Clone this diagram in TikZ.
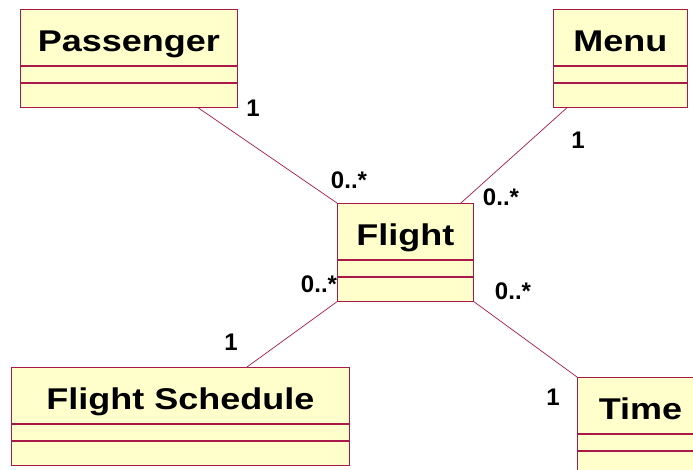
\documentclass[tikz,border=0pt]{standalone}
\usepackage{fontspec}
\setmainfont{Liberation Sans}
\newfontfamily\classfont[FakeStretch=1.2]{Liberation Sans}
\definecolor{classfill}{RGB}{255,255,204}
\definecolor{classline}{RGB}{168,24,72}

\begin{document}
\begin{tikzpicture}[x=1pt,y=-1pt,
    classbox/.style={draw=classline,fill=classfill,line width=0.9pt,anchor=north west,inner sep=0pt},
    classhead/.style={classbox,minimum height=56pt,text height=28pt,text depth=0pt,
        font=\classfont\bfseries\fontsize{30}{31}\selectfont},
    classpart/.style={classbox,minimum height=#1},
    assoc/.style={draw=classline,line width=0.7pt},
    mult/.style={font=\bfseries\fontsize{24}{25}\selectfont,inner sep=0pt}]
    \useasboundingbox (0,0) rectangle (693,470);
    \clip (0,0) rectangle (693,470);
    % classes
    \node[classhead,minimum width=217pt] (passenger) at (20,9) {Passenger};
    \node[classpart=16pt,minimum width=217pt] (passenger-attr) at (passenger.south west) {};
    \node[classpart=24pt,minimum width=217pt] (passenger-ops) at (passenger-attr.south west) {};
    \node[classhead,minimum width=134pt] (menu) at (553,9) {Menu};
    \node[classpart=16pt,minimum width=134pt] (menu-attr) at (menu.south west) {};
    \node[classpart=24pt,minimum width=134pt] (menu-ops) at (menu-attr.south west) {};
    \node[classhead,minimum width=136pt] (flight) at (337,203) {Flight};
    \node[classpart=16pt,minimum width=136pt] (flight-attr) at (flight.south west) {};
    \node[classpart=24pt,minimum width=136pt] (flight-ops) at (flight-attr.south west) {};
    \node[classhead,minimum width=338pt] (schedule) at (11,367) {Flight Schedule};
    \node[classpart=16pt,minimum width=338pt] (schedule-attr) at (schedule.south west) {};
    \node[classpart=24pt,minimum width=338pt] (schedule-ops) at (schedule-attr.south west) {};
    \node[classhead,minimum width=126pt] (time) at (577,377) {Time};
    \node[classpart=16pt,minimum width=126pt] (time-attr) at (time.south west) {};
    \node[classpart=24pt,minimum width=126pt] (time-ops) at (time-attr.south west) {};
    % associations
    \draw[assoc] ([xshift=178pt]passenger-ops.south west) -- (flight.north west);
    \draw[assoc] ([xshift=14pt]menu-ops.south west) -- ([xshift=-13pt]flight.north east);
    \draw[assoc] ([xshift=236pt]schedule.north west) -- (flight-ops.south west);
    \draw[assoc] (flight-ops.south east) -- (time.north west);
    % multiplicities
    \node[mult] (m-passenger) at (253,108) {1};
    \node[mult] (m-flight-p) at (349,180) {0..*};
    \node[mult] (m-menu) at (578,140) {1};
    \node[mult] (m-flight-m) at (501,197) {0..*};
    \node[mult] (m-flight-s) at (319,284) {0..*};
    \node[mult] (m-flight-t) at (513,291) {0..*};
    \node[mult] (m-schedule) at (231,342) {1};
    \node[mult] (m-time) at (553,397) {1};
\end{tikzpicture}
\end{document}
